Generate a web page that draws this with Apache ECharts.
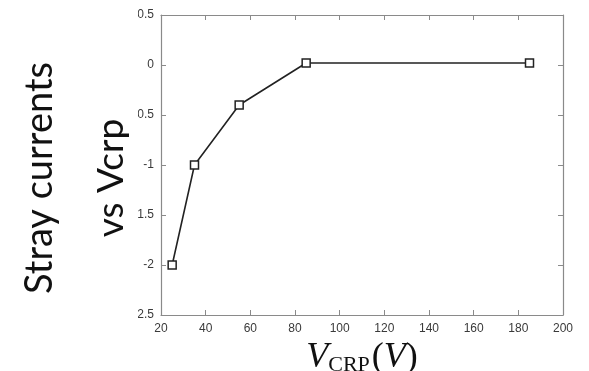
<!DOCTYPE html>
<html>
<head>
<meta charset="utf-8">
<script src="https://cdn.jsdelivr.net/npm/echarts@6/dist/echarts.min.js"></script>
<style>
  html, body { margin: 0; padding: 0; background: #fff; }
  #chart { width: 589px; height: 371px; }
</style>
</head>
<body>
<div id="chart"></div>
<script>
// Stray current measured against the CRP voltage
const vcrp = [25, 35, 55, 85, 185];
const strayCurrent = [-2, -1, -0.4, 0.02, 0.02];
const xTicks = { min: 20, max: 200, step: 20 };
const yTicks = { min: -2.5, max: 0.5, step: 0.5 };

const axisGray = '#8a8a8a';
const labelGray = '#3a3a3a';

const chart = echarts.init(document.getElementById('chart'));

function frameAxis(extra) {
  return Object.assign({
    axisLine: { show: true, onZero: false, lineStyle: { color: axisGray, width: 1.2 } },
    axisTick: { show: true, inside: true, length: 5, lineStyle: { color: axisGray } },
    splitLine: { show: false },
    axisLabel: { show: false }
  }, extra);
}

chart.setOption({
  animation: false,
  backgroundColor: '#fff',
  grid: { left: 161, right: 26, top: 15, bottom: 56, containLabel: false, outerBoundsMode: 'none' },
  xAxis: [
    frameAxis({
      type: 'value', position: 'bottom',
      min: xTicks.min, max: xTicks.max, interval: xTicks.step,
      axisLabel: { show: true, color: labelGray, fontSize: 12, margin: 8, fontFamily: 'Liberation Sans' },
      name: '{v|V}{s|CRP}{p|(}{v|V}{p|)}',
      nameLocation: 'middle', nameGap: 25,
      nameTextStyle: {
        rich: {
          v: { fontFamily: 'Liberation Serif', fontStyle: 'italic', fontSize: 36, color: '#111', verticalAlign: 'bottom' },
          s: { fontFamily: 'Liberation Serif', fontSize: 22, color: '#111', verticalAlign: 'bottom', padding: [0, 2, 0, 0] },
          p: { fontFamily: 'Liberation Serif', fontSize: 36, color: '#111', verticalAlign: 'bottom' }
        }
      }
    }),
    frameAxis({ type: 'value', position: 'top', min: xTicks.min, max: xTicks.max, interval: xTicks.step })
  ],
  yAxis: [
    frameAxis({
      type: 'value', position: 'left',
      min: yTicks.min, max: yTicks.max, interval: yTicks.step,
      axisLabel: { show: true, color: labelGray, fontSize: 12, margin: 7, fontFamily: 'Liberation Sans' }
    }),
    frameAxis({ type: 'value', position: 'right', min: yTicks.min, max: yTicks.max, interval: yTicks.step })
  ],
  series: [{
    type: 'line',
    data: vcrp.map((v, i) => [v, strayCurrent[i]]),
    symbol: 'rect',
    symbolSize: 8,
    showAllSymbol: true,
    lineStyle: { color: '#222', width: 1.6 },
    itemStyle: { color: '#fff', borderColor: '#222', borderWidth: 1.5 },
    z: 3
  }],
  graphic: [
    // the chart image is cut on its left side, trimming the first digits of the y labels
    { type: 'rect', shape: { x: 129, y: 0, width: 9, height: 330 }, style: { fill: '#fff' }, z: 10 },
    {
      type: 'text', x: 40, y: 178, rotation: Math.PI / 2, z: 11,
      style: { text: 'Stray currents', font: '38px Lato', fill: '#111', align: 'center', verticalAlign: 'middle' }
    },
    {
      type: 'text', x: 111, y: 178, rotation: Math.PI / 2, z: 11,
      style: { text: 'vs Vcrp', font: '37px Lato', fill: '#111', align: 'center', verticalAlign: 'middle' }
    }
  ]
});
</script>
</body>
</html>
